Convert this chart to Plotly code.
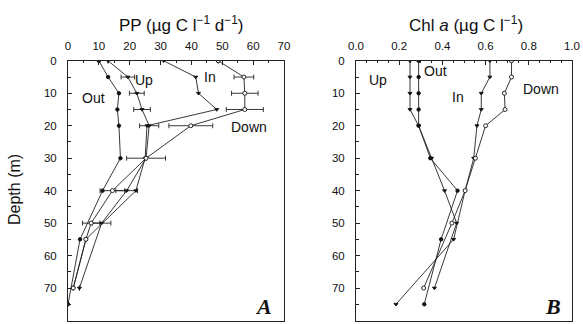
import plotly.graph_objects as go

# ---------------- Panel A: primary production (PP) ----------------
pp_out_depth = [0, 5, 10, 15, 20, 30, 40, 55, 75]
pp_out = [10, 13, 16.5, 16, 16.5, 17, 11.2, 3.9, 0]

pp_up_depth = [0, 5, 10, 15, 20, 30, 40, 50, 70]
pp_up = [13, 19.4, 22.3, 24, 26.3, 25.3, 19, 10.9, 3.7]
pp_up_err = [0, 2.2, 2.4, 2.7, 3.1, 0, 3.5, 3, 0]

pp_in_depth = [0, 5, 10, 15, 20, 30, 40, 55, 70]
pp_in = [31, 41.4, 42.3, 48.2, 25.6, 25, 22, 5.8, 1.7]

pp_down_depth = [0, 5, 10, 15, 20, 30, 40, 50, 55, 70]
pp_down = [48.7, 57, 57.3, 57.3, 39.8, 25.3, 14.4, 7.5, 5.8, 1.7]
pp_down_err = [0, 3.2, 4.3, 6, 7.1, 6.3, 4, 2.8, 0, 0]

# ---------------- Panel B: chlorophyll a ----------------
chl_out_depth = [0, 5, 10, 15, 20, 30, 40, 55, 75]
chl_out = [0.29, 0.29, 0.29, 0.29, 0.29, 0.344, 0.47, 0.394, 0.316]

chl_up_depth = [0, 5, 10, 15, 20, 30, 40, 50, 70]
chl_up = [0.25, 0.25, 0.25, 0.25, 0.29, 0.35, 0.41, 0.466, 0.363]

chl_in_depth = [0, 5, 10, 15, 20, 30, 40, 55, 75]
chl_in = [0.62, 0.62, 0.58, 0.58, 0.56, 0.545, 0.505, 0.452, 0.185]

chl_down_depth = [0, 5, 10, 15, 20, 30, 40, 50, 70]
chl_down = [0.72, 0.72, 0.687, 0.69, 0.6, 0.553, 0.505, 0.444, 0.313]

pp_ticks = [0, 10, 20, 30, 40, 50, 60, 70]
chl_ticks = [0.0, 0.2, 0.4, 0.6, 0.8, 1.0]
chl_ticklabels = ["0.0", "0.2", "0.4", "0.6", "0.8", "1.0"]
depth_ticks = [0, 10, 20, 30, 40, 50, 60, 70, 80]

W, H = 583, 324
LINE = dict(color="#222", width=0.9)
FONT = "Liberation Sans, Arial, sans-serif"

fig = go.Figure()

def add(x, y, xa, ya, symbol, size, err=None, fill=True):
    kw = {}
    if err is not None:
        kw["error_x"] = dict(type="data", array=err, symmetric=True,
                             color="#222", thickness=0.9, width=2.5)
    fig.add_trace(go.Scatter(
        x=x, y=y, xaxis=xa, yaxis=ya, mode="lines+markers",
        line=LINE,
        marker=dict(symbol=symbol, size=size, color="#111" if fill else "white",
                    line=dict(color="#111", width=0.9)),
        showlegend=False, **kw))

# Panel A
add(pp_out, pp_out_depth, "x", "y", "circle", 3.5)
add(pp_up, pp_up_depth, "x", "y", "triangle-down", 3.5, err=pp_up_err)
add(pp_in, pp_in_depth, "x", "y", "triangle-down", 3.5)
add(pp_down, pp_down_depth, "x", "y", "circle", 4, err=pp_down_err, fill=False)

# Panel B
add(chl_out, chl_out_depth, "x2", "y2", "circle", 3.5)
add(chl_up, chl_up_depth, "x2", "y2", "triangle-down", 3.5)
add(chl_in, chl_in_depth, "x2", "y2", "triangle-down", 3.5)
add(chl_down, chl_down_depth, "x2", "y2", "circle", 4, fill=False)

ytop = 1 - 60.8 / H
ybot = 1 - 320.5 / H

common_x = dict(side="top", showline=True, linecolor="#222", linewidth=1, mirror=True,
                ticks="inside", ticklen=4, tickcolor="#222", showgrid=False, zeroline=False,
                automargin=False,
                tickfont=dict(family=FONT, size=11.5, color="#111"), ticklabelstandoff=5,
                minor=dict(ticks="inside", ticklen=2, tickcolor="#222"))
common_y = dict(autorange=False, range=[80, 0], showline=True, linecolor="#222", linewidth=1,
                mirror=True, ticks="inside", ticklen=4, tickcolor="#222", showgrid=False,
                zeroline=False, automargin=False,
                tickvals=depth_ticks, ticktext=[str(v) for v in depth_ticks],
                tickfont=dict(family=FONT, size=11.5, color="#111"), ticklabelstandoff=8,
                minor=dict(ticks="inside", ticklen=3, tickcolor="#222", dtick=5))

fig.update_layout(
    width=W, height=H, margin=dict(l=0, r=0, t=0, b=0, pad=0, autoexpand=False),
    paper_bgcolor="white", plot_bgcolor="white",
    xaxis=dict(domain=[68 / W, 284 / W], range=[0, 70], anchor="y",
               tickvals=pp_ticks, ticktext=[str(v) for v in pp_ticks], **common_x),
    yaxis=dict(domain=[ybot, ytop], anchor="x", **common_y),
    xaxis2=dict(domain=[356 / W, 572 / W], range=[0, 1.0], anchor="y2",
                tickvals=chl_ticks, ticktext=chl_ticklabels, **common_x),
    yaxis2=dict(domain=[ybot, ytop], anchor="x2", **common_y),
)

def note(text, x, y, xref, yref, size=13, **kw):
    fig.add_annotation(text=text, x=x, y=y, xref=xref, yref=yref, showarrow=False,
                       xanchor="center", yanchor="middle",
                       font=dict(family=kw.pop("family", FONT), size=size, color="#111"), **kw)

# Panel titles
note("PP (µg C l<sup>−1</sup> d<sup>−1</sup>)", 181 / W, 1 - 24 / H, "paper", "paper", size=17)
note("Chl <i>a</i> (µg C l<sup>−1</sup>)", 466 / W, 1 - 24 / H, "paper", "paper", size=17)
note("Depth (m)", 14 / W, 1 - 190 / H, "paper", "paper", size=16, textangle=-90)

# Series labels panel A
note("Up", 24.5, 6, "x", "y", size=14)
note("Out", 8.3, 11.5, "x", "y", size=14)
note("In", 46, 5, "x", "y", size=14)
note("Down", 58.5, 20.3, "x", "y", size=14)

# Series labels panel B
note("Up", 0.10, 6, "x2", "y2", size=14)
note("Out", 0.37, 3, "x2", "y2", size=14)
note("In", 0.47, 11.3, "x2", "y2", size=14)
note("Down", 0.855, 8.7, "x2", "y2", size=14)

# Panel letters
note("<b><i>A</i></b>", 263 / W, 1 - 306 / H, "paper", "paper", size=22,
     family="Liberation Serif, Times New Roman, serif")
note("<b><i>B</i></b>", 553 / W, 1 - 306 / H, "paper", "paper", size=22,
     family="Liberation Serif, Times New Roman, serif")

fig.write_html("out.html", config={"displayModeBar": False},
               post_script="document.body.style.margin='0';document.body.style.padding='0';")
